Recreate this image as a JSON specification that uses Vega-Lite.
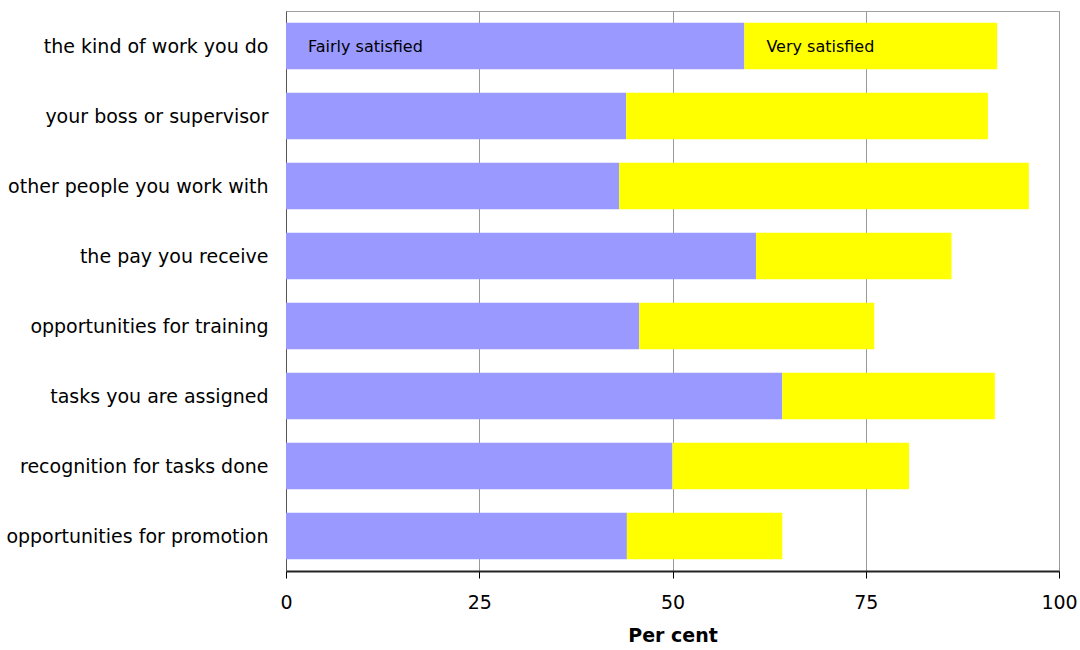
{
  "$schema": "https://vega.github.io/schema/vega-lite/v6.json",
  "width": 773,
  "height": 560,
  "autosize": {"type": "none"},
  "padding": {"left": 286, "top": 11, "right": 21, "bottom": 79},
  "background": "white",
  "config": {
    "font": "DejaVu Sans",
    "view": {"stroke": "#a0a0a0", "strokeWidth": 1}
  },
  "data": {
    "values": [
      {"item": "the kind of work you do", "segment": "Fairly satisfied", "value": 59.3},
      {"item": "the kind of work you do", "segment": "Very satisfied", "value": 32.7},
      {"item": "your boss or supervisor", "segment": "Fairly satisfied", "value": 44.0},
      {"item": "your boss or supervisor", "segment": "Very satisfied", "value": 46.8},
      {"item": "other people you work with", "segment": "Fairly satisfied", "value": 43.1},
      {"item": "other people you work with", "segment": "Very satisfied", "value": 53.0},
      {"item": "the pay you receive", "segment": "Fairly satisfied", "value": 60.8},
      {"item": "the pay you receive", "segment": "Very satisfied", "value": 25.3},
      {"item": "opportunities for training", "segment": "Fairly satisfied", "value": 45.7},
      {"item": "opportunities for training", "segment": "Very satisfied", "value": 30.4},
      {"item": "tasks you are assigned", "segment": "Fairly satisfied", "value": 64.2},
      {"item": "tasks you are assigned", "segment": "Very satisfied", "value": 27.5},
      {"item": "recognition for tasks done", "segment": "Fairly satisfied", "value": 50.0},
      {"item": "recognition for tasks done", "segment": "Very satisfied", "value": 30.6},
      {"item": "opportunities for promotion", "segment": "Fairly satisfied", "value": 44.1},
      {"item": "opportunities for promotion", "segment": "Very satisfied", "value": 20.1}
    ]
  },
  "transform": [
    {"stack": "value", "groupby": ["item"], "sort": [{"field": "segment"}], "as": ["v0", "v1"]}
  ],
  "encoding": {
    "y": {
      "field": "item",
      "type": "nominal",
      "sort": null,
      "scale": {"paddingInner": 0.333, "paddingOuter": 0.167},
      "axis": {
        "title": null,
        "ticks": false,
        "labelPadding": 18,
        "labelFontSize": 19,
        "labelColor": "#000000",
        "labelOffset": 1,
        "domainColor": "#555555",
        "labelLimit": 400
      }
    }
  },
  "layer": [
    {
      "mark": {"type": "bar"},
      "encoding": {
        "x": {
          "field": "v0",
          "type": "quantitative",
          "scale": {"domain": [0, 100], "nice": false},
          "axis": {
            "title": "Per cent",
            "values": [0, 25, 50, 75, 100],
            "grid": true,
            "gridColor": "#999999",
            "gridWidth": 1,
            "domainColor": "#222222",
            "domainWidth": 2,
            "tickColor": "#000000",
            "tickSize": 7,
            "labelFlush": false,
            "labelFontSize": 19,
            "labelColor": "#000000",
            "labelPadding": 15,
            "titleFontSize": 19,
            "titleFontWeight": "bold",
            "titleColor": "#000000",
            "titlePadding": 14
          }
        },
        "x2": {"field": "v1"},
        "color": {
          "field": "segment",
          "type": "nominal",
          "scale": {"domain": ["Fairly satisfied", "Very satisfied"], "range": ["#9999ff", "#ffff00"]},
          "legend": null
        }
      }
    },
    {
      "transform": [{"filter": "datum.item === 'the kind of work you do'"}],
      "mark": {"type": "text", "align": "left", "baseline": "middle", "dx": 22, "dy": 1, "fontSize": 16, "color": "#000000"},
      "encoding": {
        "x": {"field": "v0", "type": "quantitative"},
        "text": {"field": "segment"}
      }
    }
  ]
}
